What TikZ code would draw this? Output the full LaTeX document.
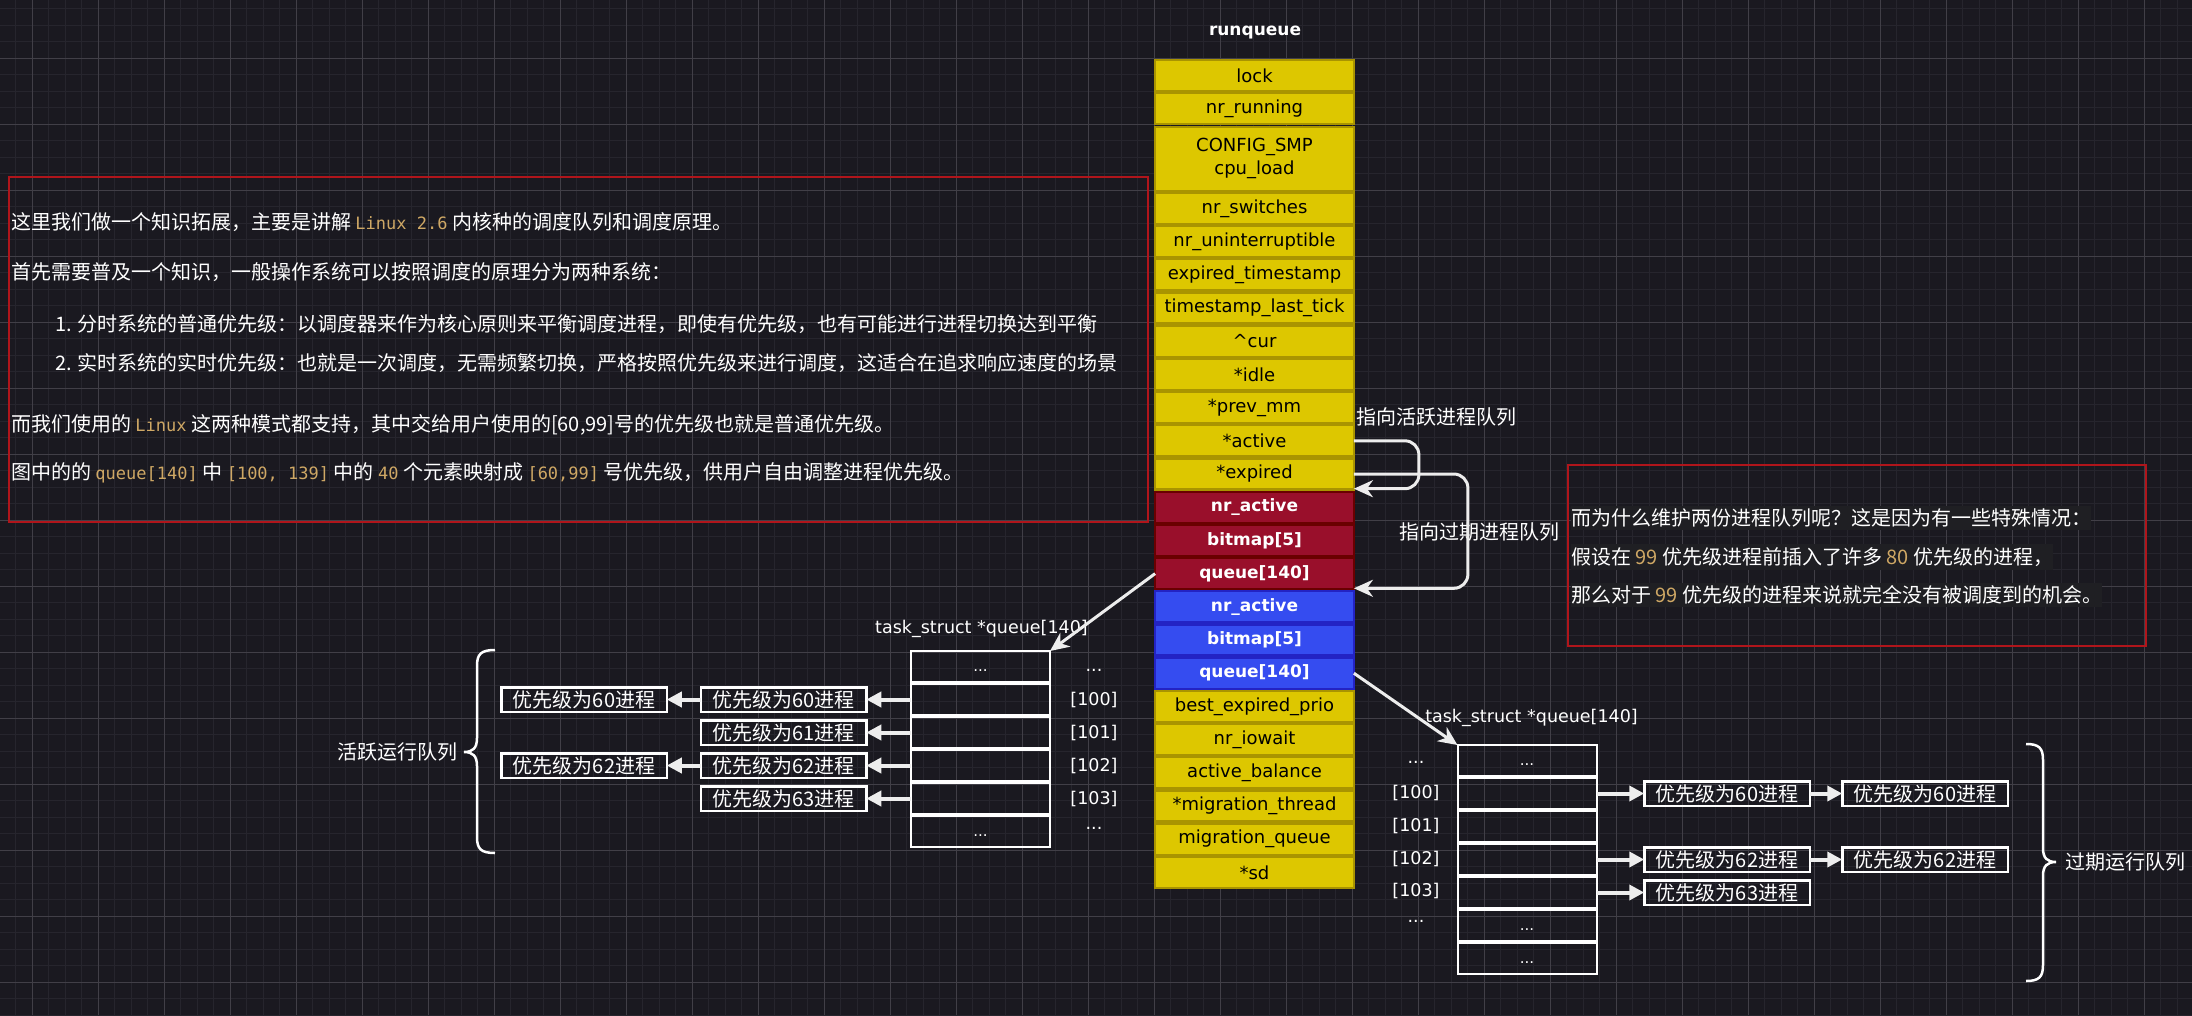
\documentclass[tikz,border=0pt]{standalone}
\usepackage{fontspec}
\usepackage{tikz}
\usetikzlibrary{arrows.meta}
\setmainfont{DejaVu Sans}
\newfontfamily\cjk{Noto Sans CJK SC}
\newfontfamily\codefont{DejaVu Sans Mono}
\definecolor{bgcol}{HTML}{1A1920}
\definecolor{gridminor}{HTML}{26252D}
\definecolor{gridmajor}{HTML}{413F47}
\definecolor{ylwfill}{HTML}{DDC700}
\definecolor{ylwline}{HTML}{A99400}
\definecolor{redfill}{HTML}{990F2B}
\definecolor{redline}{HTML}{6A0000}
\definecolor{bluefill}{HTML}{354CF0}
\definecolor{blueline}{HTML}{2323C4}
\definecolor{noteline}{HTML}{B0151B}
\definecolor{gold}{HTML}{CFA865}
\definecolor{linkcol}{HTML}{EDEDED}
\definecolor{notebg}{HTML}{1F1F23}
\newcommand{\codetxt}[1]{\textcolor{gold}{\codefont\fontsize{17}{20}\selectfont #1}}

\begin{document}
\begin{tikzpicture}[x=1pt, y=-1pt,
  every node/.style={outer sep=0pt},
  fld/.style={draw=ylwline, fill=ylwfill, line width=2.2pt, minimum width=198.8pt, minimum height=31pt, inner sep=0pt, font=\fontsize{18}{23}\selectfont, text=black},
  actfld/.style={fld, draw=redline, fill=redfill, text=white, font=\fontsize{17}{20}\selectfont\bfseries},
  expfld/.style={actfld, draw=blueline, fill=bluefill},
  slot/.style={draw=white, line width=2pt, minimum width=139pt, minimum height=31pt, inner sep=0pt, text=white, font=\fontsize{15}{18}\selectfont, text height=12.5pt, text depth=3.5pt},
  proc/.style={draw=white, line width=2.5pt, minimum width=165.5pt, minimum height=24.5pt, inner sep=0pt, text=white, font=\cjk\fontsize{20}{22}\selectfont},
  idx/.style={text=white, inner sep=0pt, font=\fontsize{17.5}{20}\selectfont, text height=12.5pt, text depth=3.5pt},
  note/.style={draw=noteline, line width=1.5pt},
  say/.style={anchor=west, text=white, inner sep=0pt, font=\cjk\fontsize{20}{24}\selectfont},
  ptr/.style={draw=linkcol, line width=3pt, -{Stealth[length=19pt, width=17pt, inset=6pt]}},
  nxt/.style={draw=linkcol, line width=4pt, -{Triangle[length=15pt, width=15pt]}},
  curly/.style={draw=white, line width=2.5pt}]
\path[use as bounding box, fill=bgcol] (0,0) rectangle (2192,1015);
\draw[gridminor, line width=1pt, step=16.5pt, shift={(32,58)}] (-32,957) grid (2160,-58);
\draw[gridmajor, line width=1pt, step=66pt, shift={(32,58)}] (-32,957) grid (2160,-58);

\node[note, minimum width=1139pt, minimum height=345pt] (leftnote) at (578.5,349.5) {};
\node[say] (l1) at (11,222) {这里我们做一个知识拓展，主要是讲解 \codetxt{Linux 2.6} 内核种的调度队列和调度原理。};
\node[say] (l2) at (11,272) {首先需要普及一个知识，一般操作系统可以按照调度的原理分为两种系统：};
\node[say] (l3) at (55,324) {1. 分时系统的普通优先级：以调度器来作为核心原则来平衡调度进程，即使有优先级，也有可能进行进程切换达到平衡};
\node[say] (l4) at (55,363) {2. 实时系统的实时优先级：也就是一次调度，无需频繁切换，严格按照优先级来进行调度，这适合在追求响应速度的场景};
\node[say] (l5) at (11,425) {而我们使用的 \codetxt{Linux} 这两种模式都支持，其中交给用户使用的[60,99]号的优先级也就是普通优先级。};
\node[say] (l6) at (11,473) {图中的的 \codetxt{queue[140]} 中 \codetxt{[100, 139]} 中的 \codetxt{40} 个元素映射成 \codetxt{[60,99]} 号优先级，供用户自由调整进程优先级。};

\node[note, minimum width=578pt, minimum height=181pt] (rightnote) at (1857,555.5) {};
\node[say, fill=notebg, inner ysep=3pt] (r1) at (1571,518) {而为什么维护两份进程队列呢？这是因为有一些特殊情况：};
\node[say, fill=notebg, inner ysep=3pt] (r2) at (1571,557) {假设在 \textcolor{gold}{99} 优先级进程前插入了许多 \textcolor{gold}{80} 优先级的进程，};
\node[say, fill=notebg, inner ysep=3pt] (r3) at (1571,595) {那么对于 \textcolor{gold}{99} 优先级的进程来说就完全没有被调度到的机会。};

\node[idx, font=\fontsize{17}{20}\selectfont\bfseries] (title) at (1255,31) {runqueue};
\node[fld] (lock) at (1254.5,75.6) {lock};
\node[fld] (nrrun) at (1254.5,108.8) {nr\_running};
\node[fld, minimum height=64.2pt, align=center] (smp) at (1254.5,158.8) {CONFIG\_SMP\\cpu\_load};
\node[fld] (nrsw) at (1254.5,208.4) {nr\_switches};
\node[fld] (nrun) at (1254.5,241.6) {nr\_uninterruptible};
\node[fld] (exts) at (1254.5,274.8) {expired\_timestamp};
\node[fld] (tslt) at (1254.5,308) {timestamp\_last\_tick};
\node[fld] (cur) at (1254.5,341.2) {\textasciicircum cur};
\node[fld] (idle) at (1254.5,374.4) {*idle};
\node[fld] (prevmm) at (1254.5,407.6) {*prev\_mm};
\node[fld] (active) at (1254.5,440.8) {*active};
\node[fld] (expired) at (1254.5,474) {*expired};
\node[actfld] (rednr) at (1254.5,507.2) {nr\_active};
\node[actfld] (redbm) at (1254.5,540.4) {bitmap[5]};
\node[actfld] (redq) at (1254.5,573.6) {queue[140]};
\node[expfld] (bluenr) at (1254.5,606.8) {nr\_active};
\node[expfld] (bluebm) at (1254.5,640) {bitmap[5]};
\node[expfld] (blueq) at (1254.5,673.2) {queue[140]};
\node[fld] (best) at (1254.5,706.4) {best\_expired\_prio};
\node[fld] (iowait) at (1254.5,739.6) {nr\_iowait};
\node[fld] (balance) at (1254.5,772.8) {active\_balance};
\node[fld] (mthread) at (1254.5,806) {*migration\_thread};
\node[fld] (mqueue) at (1254.5,839.2) {migration\_queue};
\node[fld] (sd) at (1254.5,872.4) {*sd};

\node[say] (toact) at (1356,417) {指向活跃进程队列};
\node[say] (toexp) at (1399,532) {指向过期进程队列};

\node[idx] (lhead) at (981.5,629) {task\_struct *queue[140]};
\node[slot] (la0) at (980.5,666.5) {...};
\node[slot] (la1) at (980.5,699.5) {};
\node[slot] (la2) at (980.5,732.5) {};
\node[slot] (la3) at (980.5,765.5) {};
\node[slot] (la4) at (980.5,798.5) {};
\node[slot] (la5) at (980.5,831.5) {...};
\node[idx] (li0) at (1094,667) {...};
\node[idx] (li1) at (1094,701) {[100]};
\node[idx] (li2) at (1094,734) {[101]};
\node[idx] (li3) at (1094,767) {[102]};
\node[idx] (li4) at (1094,800) {[103]};
\node[idx] (li5) at (1094,825) {...};

\node[proc] (a60) at (783.5,699.5) {优先级为60进程};
\node[proc] (a61) at (783.5,732.5) {优先级为61进程};
\node[proc] (a62) at (783.5,765.5) {优先级为62进程};
\node[proc] (a63) at (783.5,798.5) {优先级为63进程};
\node[proc] (b60) at (584,699.5) {优先级为60进程};
\node[proc] (b62) at (584,765.5) {优先级为62进程};

\node[idx] (rhead) at (1531.5,718) {task\_struct *queue[140]};
\node[slot] (ra0) at (1527,760.5) {...};
\node[slot] (ra1) at (1527,793.5) {};
\node[slot] (ra2) at (1527,826.5) {};
\node[slot] (ra3) at (1527,859.5) {};
\node[slot] (ra4) at (1527,892.5) {};
\node[slot] (ra5) at (1527,925.5) {...};
\node[slot] (ra6) at (1527,958.5) {...};
\node[idx] (ri0) at (1416,759) {...};
\node[idx] (ri1) at (1416,794) {[100]};
\node[idx] (ri2) at (1416,827) {[101]};
\node[idx] (ri3) at (1416,860) {[102]};
\node[idx] (ri4) at (1416,892) {[103]};
\node[idx] (ri5) at (1416,918) {...};

\node[proc] (c60) at (1727,793.5) {优先级为60进程};
\node[proc] (c62) at (1727,859.5) {优先级为62进程};
\node[proc] (c63) at (1727,892.5) {优先级为63进程};
\node[proc] (d60) at (1925,793.5) {优先级为60进程};
\node[proc] (d62) at (1925,859.5) {优先级为62进程};

\node[say, anchor=east] (actq) at (457,752) {活跃运行队列};
\node[say] (expq) at (2065,862) {过期运行队列};

\draw[curly] (495,650) .. controls (481,650) and (477,654) .. (477,666) -- (477,738) .. controls (477,748) and (473,752) .. (464,752) .. controls (473,752) and (477,756) .. (477,766) -- (477,837) .. controls (477,849) and (481,853) .. (495,853);
\draw[curly] (2026,744) .. controls (2039,744) and (2043,748) .. (2043,760) -- (2043,848) .. controls (2043,858) and (2047,862) .. (2056,862) .. controls (2047,862) and (2043,866) .. (2043,876) -- (2043,965) .. controls (2043,977) and (2039,981) .. (2026,981);

\draw[ptr, rounded corners=14pt] (active.east) -- ++(65,0) |- ([yshift=3pt]rednr.north east);
\draw[ptr, rounded corners=14pt] (expired.east) -- ++(114,0) |- ([yshift=3pt]bluenr.north east);
\draw[ptr] (redq.west) -- (la0.north east);
\draw[ptr] (blueq.east) -- (ra0.north west);

\draw[nxt] (la1.west) -- (a60.east);
\draw[nxt] (la2.west) -- (a61.east);
\draw[nxt] (la3.west) -- (a62.east);
\draw[nxt] (la4.west) -- (a63.east);
\draw[nxt] (a60.west) -- (b60.east);
\draw[nxt] (a62.west) -- (b62.east);
\draw[nxt] (ra1.east) -- (c60.west);
\draw[nxt] (ra3.east) -- (c62.west);
\draw[nxt] (ra4.east) -- (c63.west);
\draw[nxt] (c60.east) -- (d60.west);
\draw[nxt] (c62.east) -- (d62.west);
\end{tikzpicture}
\end{document}
